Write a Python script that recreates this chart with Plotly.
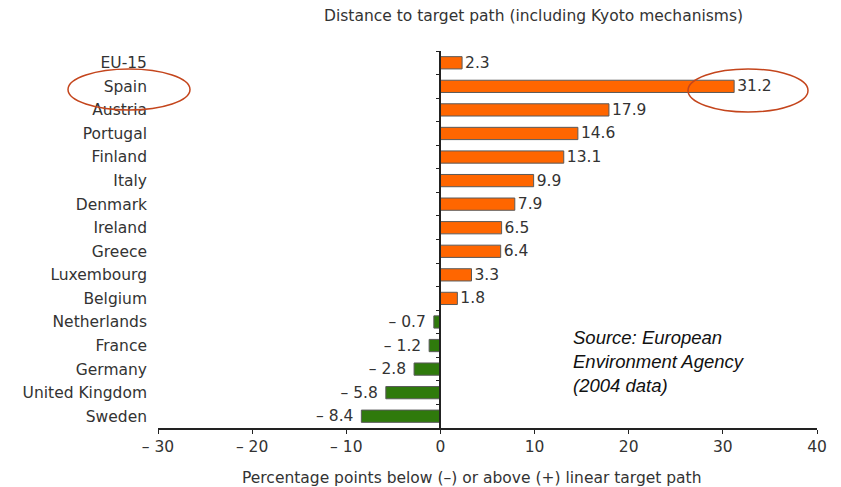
import plotly.graph_objects as go

countries = ["EU-15", "Spain", "Austria", "Portugal", "Finland", "Italy", "Denmark",
             "Ireland", "Greece", "Luxembourg", "Belgium", "Netherlands", "France",
             "Germany", "United Kingdom", "Sweden"]
values = [2.3, 31.2, 17.9, 14.6, 13.1, 9.9, 7.9, 6.5, 6.4, 3.3, 1.8,
          -0.7, -1.2, -2.8, -5.8, -8.4]
x_ticks = [-30, -20, -10, 0, 10, 20, 30, 40]
x_tick_labels = ["\u2013 30", "\u2013 20", "\u2013 10", "0", "10", "20", "30", "40"]

ORANGE = "#FF6600"
GREEN = "#2F7A0C"
TXT = "#333333"
FONT = "DejaVu Sans"
FS = 15.5

colors = [ORANGE if v >= 0 else GREEN for v in values]
labels = [f"{v:.1f}" if v >= 0 else f"\u2013 {abs(v):.1f}\u00a0" for v in values]
n = len(countries)

# page body has an 8px margin: figure is placed at (8, 8) in the window
W, H = 833, 479
fig = go.Figure()
fig.add_trace(go.Bar(
    y=list(range(n)), x=values, orientation="h",
    marker=dict(color=colors, line=dict(color="#5a5a5a", width=1)),
    width=0.52,
    text=labels, textposition="outside", cliponaxis=False, constraintext="none",
    textfont=dict(family=FONT, size=FS, color=TXT),
    hoverinfo="skip",
))
fig.add_trace(go.Scatter(x=[0], y=[0], yaxis="y2", mode="markers",
                         marker=dict(opacity=0), hoverinfo="skip", showlegend=False))

def px(xw):  # window x pixel -> paper fraction
    return (xw - 158) / 659

def py(yw):  # window y pixel -> paper fraction
    return (428 - yw) / 377

fig.update_layout(
    width=W, height=H,
    margin=dict(l=150, r=24, t=43, b=59),
    plot_bgcolor="white", paper_bgcolor="white",
    showlegend=False,
    font=dict(family=FONT, size=FS, color=TXT),
    xaxis=dict(range=[-30, 40], tickvals=x_ticks, ticktext=x_tick_labels,
               showline=True, linecolor="#222222", linewidth=1.5,
               ticks="outside", ticklen=4, tickcolor="#222222",
               showgrid=False, zeroline=False,
               tickfont=dict(family=FONT, size=FS, color=TXT)),
    yaxis=dict(range=[n - 0.5, -0.5], tickvals=list(range(n)), ticktext=countries,
               showgrid=False, zeroline=False, showline=False, ticks="",
               ticklabelstandoff=10,
               tickfont=dict(family=FONT, size=FS, color=TXT)),
    yaxis2=dict(overlaying="y", anchor="free", position=30 / 70,
                range=[n - 0.5, -0.5], tickvals=[i - 0.5 for i in range(n + 1)],
                showticklabels=False, showline=True, linecolor="#222222", linewidth=1.5,
                ticks="outside", ticklen=4, tickcolor="#222222",
                showgrid=False, zeroline=False, side="left"),
    annotations=[
        dict(text="Distance to target path (including Kyoto mechanisms)",
             xref="paper", yref="paper", x=px(533), y=py(16), yanchor="middle",
             showarrow=False, font=dict(family=FONT, size=FS, color=TXT)),
        dict(text="Percentage points below (\u2013) or above (+) linear target path",
             xref="paper", yref="paper", x=px(472), y=py(478), yanchor="middle",
             showarrow=False, font=dict(family=FONT, size=FS, color=TXT)),
        dict(text="<i>Source: European<br>Environment Agency<br>(2004 data)</i>",
             xref="paper", yref="paper", x=px(571), y=py(325),
             xanchor="left", yanchor="top", align="left", showarrow=False,
             font=dict(family="Liberation Sans", size=18.5, color="#111111")),
    ],
    shapes=[
        dict(type="circle", xref="paper", yref="paper",
             x0=px(68), x1=px(190), y0=py(110), y1=py(69),
             line=dict(color="#C4451C", width=1.5)),
        dict(type="circle", xref="paper", yref="paper",
             x0=px(688), x1=px(808), y0=py(112), y1=py(69),
             line=dict(color="#C4451C", width=1.5)),
    ],
)

fig.write_html("out.html")
